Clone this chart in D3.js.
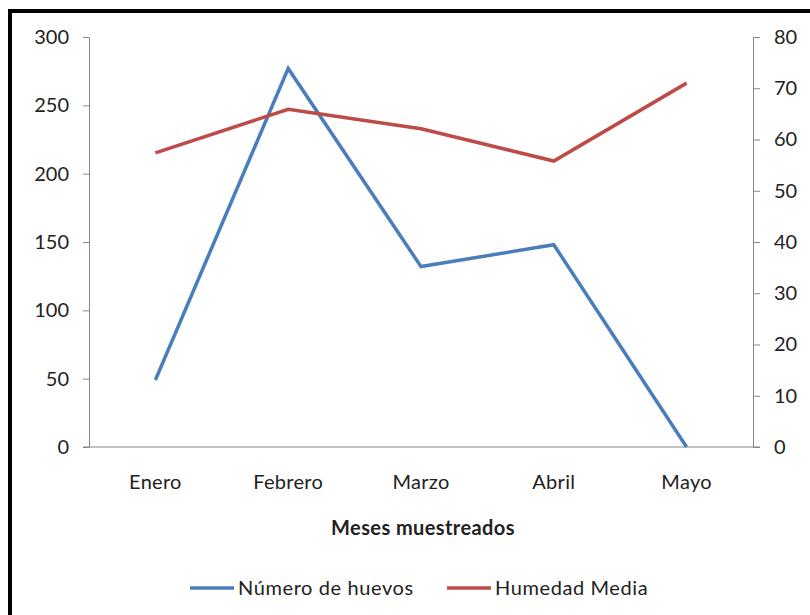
<!DOCTYPE html>
<html>
<head>
<meta charset="utf-8">
<script src="https://cdnjs.cloudflare.com/ajax/libs/d3/7.8.5/d3.min.js"></script>
<style>
  body { margin: 0; background: #fff; }
  svg text { font-family: Lato, "Open Sans", sans-serif; fill: #222; }
  .axis .domain { stroke: #868686; }
  .axis line { stroke: #868686; }
</style>
</head>
<body>
<svg width="810" height="615"></svg>
<script>
  var months = ["Enero", "Febrero", "Marzo", "Abril", "Mayo"];
  var huevos = [49, 277, 132, 148, 0];
  var humedad = [57.4, 65.9, 62.1, 55.8, 71];
  var leftTicks = [0, 50, 100, 150, 200, 250, 300];
  var rightTicks = [0, 10, 20, 30, 40, 50, 60, 70, 80];

  var svg = d3.select("svg"),
      margin = {top: 37, right: 57, bottom: 168, left: 89},
      width = 810 - margin.left - margin.right,
      height = 615 - margin.top - margin.bottom;

  // frame (only left and top edges visible in the picture)
  svg.append("path")
      .attr("d", "M10,615V11H810")
      .attr("fill", "none")
      .attr("stroke", "#000")
      .attr("stroke-width", 4);

  var g = svg.append("g").attr("transform", "translate(" + margin.left + "," + margin.top + ")");

  var x = d3.scaleBand().domain(months).range([0, width]);
  var yL = d3.scaleLinear().domain([0, 300]).range([height, 0]);
  var yR = d3.scaleLinear().domain([0, 80]).range([height, 0]);

  // left axis
  var ax = g.append("g").attr("class", "axis")
      .call(d3.axisLeft(yL).tickValues(leftTicks).tickSize(6).tickSizeOuter(0).tickPadding(14));
  ax.selectAll("text").attr("font-size", 20);

  // right axis
  var axr = g.append("g").attr("class", "axis")
      .attr("transform", "translate(" + width + ",0)")
      .call(d3.axisRight(yR).tickValues(rightTicks).tickSize(7).tickSizeOuter(0).tickPadding(14));
  axr.selectAll("text").attr("font-size", 20);

  // bottom axis
  var axb = g.append("g").attr("class", "axis")
      .attr("transform", "translate(0," + height + ")")
      .call(d3.axisBottom(x).tickSize(0).tickPadding(28));
  axb.select(".domain").attr("d", "M-6,0H" + (width + 7));
  axb.selectAll("text").attr("font-size", 20).attr("letter-spacing", "0.3px");

  var lineL = d3.line()
      .x(function(d, i) { return x(months[i]) + x.bandwidth() / 2; })
      .y(function(d) { return yL(d); });
  var lineR = d3.line()
      .x(function(d, i) { return x(months[i]) + x.bandwidth() / 2; })
      .y(function(d) { return yR(d); });

  g.append("path").datum(huevos)
      .attr("d", lineL)
      .attr("fill", "none")
      .attr("stroke", "#4a7ebb")
      .attr("stroke-width", 3.5);

  g.append("path").datum(humedad)
      .attr("d", lineR)
      .attr("fill", "none")
      .attr("stroke", "#be4b48")
      .attr("stroke-width", 3.5);

  // axis title
  svg.append("text")
      .attr("x", margin.left + width / 2 + 2)
      .attr("y", 535)
      .attr("text-anchor", "middle")
      .attr("font-size", 20)
      .attr("font-weight", "bold")
      .attr("letter-spacing", "0.4px")
      .text("Meses muestreados");

  // legend
  var legend = svg.append("g").selectAll("g")
      .data([{name: "Número de huevos", color: "#4a7ebb", x: 190},
             {name: "Humedad Media", color: "#be4b48", x: 447}])
      .enter().append("g")
      .attr("transform", function(d) { return "translate(" + d.x + ",588)"; });

  legend.append("line")
      .attr("x1", 0).attr("x2", 44)
      .attr("stroke", function(d) { return d.color; })
      .attr("stroke-width", 3.5);

  legend.append("text")
      .attr("x", 48)
      .attr("dy", "0.35em")
      .attr("font-size", 20)
      .attr("letter-spacing", "0.6px")
      .text(function(d) { return d.name; });
</script>
</body>
</html>
